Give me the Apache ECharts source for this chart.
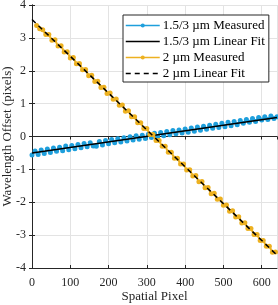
<!DOCTYPE html>
<html><head><meta charset="utf-8">
<script src="https://cdn.jsdelivr.net/npm/echarts@6/dist/echarts.min.js"></script>
<style>html,body{margin:0;padding:0;background:#fff}#c{width:278px;height:305px}</style>
</head><body><div id="c"></div>
<script>
var seriesNames = ['1.5/3 \u00b5m Measured', '1.5/3 \u00b5m Linear Fit', '2 \u00b5m Measured', '2 \u00b5m Linear Fit'];
var xTicks = [0, 100, 200, 300, 400, 500, 600];
var yTicks = [-4, -3, -2, -1, 0, 1, 2, 3, 4];

var blueX = [0,8,16,24,32,40,48,56,64,72,80,88,96,104,112,120,128,136,144,152,160,168,176,184,192,200,208,216,224,232,240,248,256,264,272,280,288,296,304,312,320,328,336,344,352,360,368,376,384,392,400,408,416,424,432,440,448,456,464,472,480,488,496,504,512,520,528,536,544,552,560,568,576,584,592,600,608,616,624,632,640];
var blueY = [-0.56,-0.44,-0.55,-0.41,-0.52,-0.38,-0.49,-0.35,-0.45,-0.33,-0.43,-0.29,-0.40,-0.27,-0.37,-0.24,-0.34,-0.21,-0.31,-0.19,-0.29,-0.30,-0.15,-0.26,-0.12,-0.22,-0.09,-0.19,-0.07,-0.17,-0.04,-0.14,-0.01,-0.11,0.02,-0.08,0.04,-0.06,0.07,-0.03,0.10,-0.01,0.12,0.02,0.15,0.05,0.18,0.08,0.20,0.11,0.23,0.13,0.26,0.16,0.29,0.19,0.31,0.22,0.34,0.25,0.37,0.27,0.40,0.30,0.43,0.33,0.46,0.36,0.49,0.40,0.52,0.43,0.55,0.46,0.58,0.50,0.60,0.52,0.62,0.55,0.60];
var blueFitX = [0, 640];
var blueFitY = [-0.50, 0.575];

var yellowX = [12,20,28,36,44,52,60,68,76,84,92,100,108,116,124,132,140,148,156,164,172,180,188,196,204,212,220,228,236,244,252,260,268,276,284,292,300,308,316,324,332,340,348,356,364,372,380,388,396,404,412,420,428,436,444,452,460,468,476,484,492,500,508,516,524,532,540,548,556,564,572,580,588,596,604,612,620,628,636];
var yellowY = [3.38,3.28,3.25,3.10,3.10,2.93,2.94,2.75,2.76,2.57,2.58,2.39,2.40,2.21,2.22,2.03,2.04,1.85,1.86,1.67,1.68,1.49,1.50,1.31,1.32,1.13,1.14,0.95,0.96,0.77,0.78,0.60,0.60,0.42,0.42,0.24,0.24,0.06,0.06,-0.12,-0.12,-0.30,-0.30,-0.48,-0.48,-0.66,-0.66,-0.84,-0.84,-1.02,-1.01,-1.20,-1.19,-1.38,-1.37,-1.56,-1.55,-1.74,-1.73,-1.91,-1.90,-2.09,-2.08,-2.27,-2.26,-2.45,-2.44,-2.63,-2.62,-2.80,-2.80,-2.98,-2.98,-3.16,-3.16,-3.34,-3.34,-3.52,-3.51];
var yellowFitX = [0, 640];
var yellowFitY = [3.56, -3.61];

function pairs(xs, ys) { return xs.map(function (x, i) { return [x, ys[i]]; }); }

var FONT = '"Liberation Serif", "DejaVu Serif", serif';
var AX = '#262626';
var BLUE = '#1E9FDC', YEL = '#EDB120';
var chart = echarts.init(document.getElementById('c'), null, {renderer: 'canvas'});
var tickStyle = {show: true, inside: true, length: 3, lineStyle: {color: AX, width: 1}};
chart.setOption({
  animation: false,
  textStyle: {fontFamily: FONT},
  grid: {left: 32, top: 5, right: 1, bottom: 37, show: false, outerBoundsMode: 'none', containLabel: false},
  xAxis: [{
    type: 'value', min: 0, max: 640, interval: 100,
    name: 'Spatial Pixel', nameLocation: 'middle', nameGap: 22, nameMoveOverlap: false,
    nameTextStyle: {fontFamily: FONT, fontSize: 13, color: AX},
    axisLine: {show: true, onZero: false, lineStyle: {color: AX, width: 1}},
    axisTick: tickStyle,
    axisLabel: {fontFamily: FONT, fontSize: 12, color: AX, margin: 9, showMaxLabel: false,
      formatter: function (v) { return xTicks.indexOf(v) >= 0 ? String(v) : ''; }},
    splitLine: {show: true, lineStyle: {color: '#e3e3e3', width: 1}}
  }, {
    type: 'value', min: 0, max: 640, interval: 100, position: 'top',
    axisLine: {show: true, lineStyle: {color: AX, width: 1}},
    axisTick: tickStyle, axisLabel: {show: false}, splitLine: {show: false}
  }],
  yAxis: [{
    type: 'value', min: -4, max: 4, interval: 1,
    name: 'Wavelength Offset (pixels)', nameLocation: 'middle', nameGap: 18, nameMoveOverlap: false,
    nameTextStyle: {fontFamily: FONT, fontSize: 13, color: AX},
    axisLine: {show: true, onZero: false, lineStyle: {color: AX, width: 1}},
    axisTick: tickStyle,
    axisLabel: {fontFamily: FONT, fontSize: 12, color: AX, margin: 6,
      formatter: function (v) { return yTicks.indexOf(v) >= 0 ? String(v) : ''; }},
    splitLine: {show: true, lineStyle: {color: '#e3e3e3', width: 1}}
  }, {
    type: 'value', min: -4, max: 4, interval: 1, position: 'right',
    axisLine: {show: true, lineStyle: {color: AX, width: 1}},
    axisTick: tickStyle, axisLabel: {show: false}, splitLine: {show: false}
  }],
  legend: {
    orient: 'vertical', left: 123, top: 15, width: 143,
    padding: [4, 4, 2, 2], itemGap: 3, itemWidth: 34, itemHeight: 5,
    backgroundColor: '#fff', borderColor: AX, borderWidth: 1, borderRadius: 0,
    textStyle: {fontFamily: FONT, fontSize: 13, color: '#000', padding: [0, 0, 0, -2]},
    lineStyle: {width: 1.5},
    data: [
      {name: seriesNames[0]},
      {name: seriesNames[1], itemStyle: {opacity: 0}},
      {name: seriesNames[2]},
      {name: seriesNames[3], itemStyle: {opacity: 0}}
    ]
  },
  series: [{
    name: seriesNames[0], type: 'line', data: pairs(blueX, blueY),
    symbol: 'circle', symbolSize: 5, showSymbol: true,
    lineStyle: {color: BLUE, width: 2}, itemStyle: {color: BLUE}, z: 2
  }, {
    name: seriesNames[1], type: 'line', data: pairs(blueFitX, blueFitY),
    symbol: 'none', lineStyle: {color: '#000', width: 1.5}, itemStyle: {color: '#000'}, z: 3
  }, {
    name: seriesNames[2], type: 'line', data: pairs(yellowX, yellowY),
    symbol: 'circle', symbolSize: 5, showSymbol: true,
    lineStyle: {color: YEL, width: 2}, itemStyle: {color: YEL}, z: 4
  }, {
    name: seriesNames[3], type: 'line', data: pairs(yellowFitX, yellowFitY),
    symbol: 'none', lineStyle: {color: '#000', width: 1.5, type: [5, 4]}, itemStyle: {color: '#000'}, z: 5
  }]
});
</script></body></html>
